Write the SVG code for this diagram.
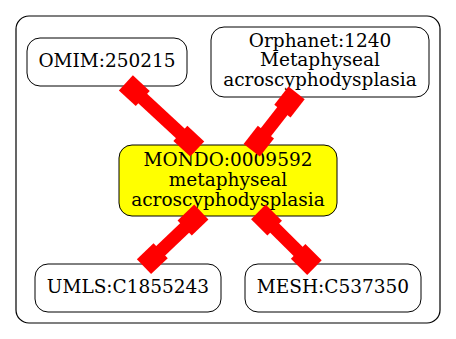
<svg xmlns="http://www.w3.org/2000/svg" width="456" height="339" viewBox="0 0 456 339">
  <style>
    .cluster { fill: #ffffff; stroke: #000000; stroke-width: 1.2; }
    .node { fill: #ffffff; stroke: #000000; stroke-width: 1; }
    .focus { fill: #ffff00; }
    .label { font-family: "DejaVu Serif", serif; font-size: 18.5px; fill: #000000; text-anchor: middle; }
    .edge-line { stroke: #ff0000; stroke-width: 13; fill: none; }
    .edge-box { fill: #ff0000; }
  </style>
  <defs>
    <!-- box end cap, centred on the origin, long axis along +x -->
    <rect id="cap" x="-11.5" y="-10.3" width="23" height="20.6" class="edge-box"/>
  </defs>

  <rect width="456" height="339" fill="#ffffff"/>

  <g id="cluster">
    <rect class="cluster" x="16" y="16" width="424" height="307" rx="13" ry="13"/>
  </g>

  <g id="node-omim">
    <rect class="node" x="27" y="38" width="160" height="48" rx="13" ry="13"/>
    <text class="label" x="107" y="67">OMIM:250215</text>
  </g>

  <g id="node-orphanet">
    <rect class="node" x="211" y="27" width="218" height="70" rx="13" ry="13"/>
    <text class="label" x="320" y="46.5">Orphanet:1240</text>
    <text class="label" x="320" y="66.2">Metaphyseal</text>
    <text class="label" x="320" y="86">acroscyphodysplasia</text>
  </g>

  <g id="node-mondo">
    <rect class="node focus" x="119" y="145" width="218" height="71" rx="13" ry="13"/>
    <text class="label" x="228" y="166">MONDO:0009592</text>
    <text class="label" x="228" y="185.8">metaphyseal</text>
    <text class="label" x="228" y="205.5">acroscyphodysplasia</text>
  </g>

  <g id="node-umls">
    <rect class="node" x="35" y="264" width="186" height="48" rx="13" ry="13"/>
    <text class="label" x="128" y="292.7">UMLS:C1855243</text>
  </g>

  <g id="node-mesh">
    <rect class="node" x="245" y="264" width="176" height="48" rx="13" ry="13"/>
    <text class="label" x="333" y="292.7">MESH:C537350</text>
  </g>

  <!-- connectors are painted over the nodes -->
  <g id="connectors">
    <!-- OMIM to MONDO -->
    <g id="edge-omim-mondo">
      <line class="edge-line" x1="134.3" y1="90.7" x2="188.8" y2="141.2"/>
      <use href="#cap" transform="translate(134.3 90.7) rotate(42.8)"/>
      <use href="#cap" transform="translate(188.8 141.2) rotate(42.8)"/>
    </g>
    <!-- Orphanet to MONDO -->
    <g id="edge-orphanet-mondo">
      <line class="edge-line" x1="289.5" y1="102" x2="258.8" y2="141.2"/>
      <use href="#cap" transform="translate(289.5 102) rotate(128.1)"/>
      <use href="#cap" transform="translate(258.8 141.2) rotate(128.1)"/>
    </g>
    <!-- MONDO to UMLS -->
    <g id="edge-mondo-umls">
      <line class="edge-line" x1="193" y1="220" x2="152.3" y2="258.7"/>
      <use href="#cap" transform="translate(193 220) rotate(136.4)"/>
      <use href="#cap" transform="translate(152.3 258.7) rotate(136.4)"/>
    </g>
    <!-- MONDO to MESH -->
    <g id="edge-mondo-mesh">
      <line class="edge-line" x1="266.5" y1="220" x2="306.3" y2="259.5"/>
      <use href="#cap" transform="translate(266.5 220) rotate(44.8)"/>
      <use href="#cap" transform="translate(306.3 259.5) rotate(44.8)"/>
    </g>
  </g>
</svg>
